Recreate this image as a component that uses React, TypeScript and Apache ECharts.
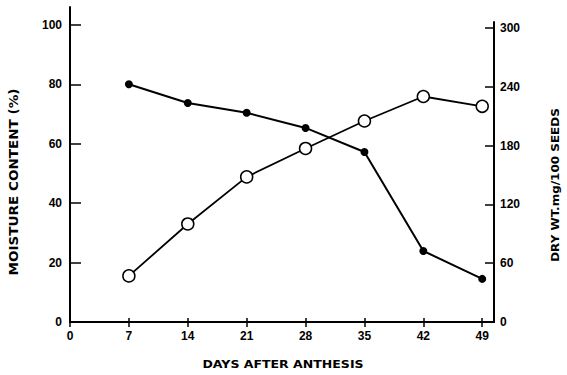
import React, { useEffect, useRef } from "react";
import * as echarts from "echarts";

const days = [7, 14, 21, 28, 35, 42, 49];
const moisture = [80, 73.7, 70.4, 65.3, 57.2, 23.9, 14.5];
const dryWeight = [47, 100, 148, 177, 205, 230, 220];
const xTicks = [0, 7, 14, 21, 28, 35, 42, 49];
const leftTicks = [0, 20, 40, 60, 80, 100];

const FONT = "'Liberation Sans', Arial, sans-serif";
const TITLE_FONT = "'DejaVu Sans', 'Liberation Sans', sans-serif";

export default function App() {
  const ref = useRef<HTMLDivElement>(null);
  useEffect(() => {
    document.body.style.margin = "0";
    const chart = echarts.init(ref.current!, null, { renderer: "svg" });
    const labelStyle = { color: "#000", fontFamily: FONT, fontWeight: "bold" as const, fontSize: 12 };
    chart.setOption({
      animation: false,
      backgroundColor: "#fff",
      grid: [
        { left: 70, right: 73, top: 7, bottom: 53 },
        { left: 70, right: 73, top: 22, bottom: 53 },
      ],
      xAxis: [
        {
          type: "value",
          gridIndex: 0,
          min: 0,
          max: 50.4,
          axisLine: { show: true, lineStyle: { color: "#000", width: 2 } },
          axisTick: { show: true, customValues: xTicks, inside: false, length: 5, lineStyle: { color: "#000", width: 1.5 } },
          axisLabel: { customValues: xTicks, margin: 8, ...labelStyle },
          splitLine: { show: false },
        },
        {
          type: "value",
          gridIndex: 0,
          min: 0,
          max: 50.4,
          position: "bottom",
          axisLine: { show: false },
          axisTick: { show: true, customValues: xTicks.slice(1), inside: true, length: 4, lineStyle: { color: "#000", width: 1.5 } },
          axisLabel: { show: false },
          splitLine: { show: false },
        },
        {
          type: "value",
          gridIndex: 1,
          min: 0,
          max: 50.4,
          show: false,
        },
      ],
      yAxis: [
        {
          type: "value",
          gridIndex: 0,
          min: 0,
          max: 106,
          position: "left",
          axisLine: { show: true, lineStyle: { color: "#000", width: 2 } },
          axisTick: { show: true, customValues: leftTicks, inside: true, length: 11, lineStyle: { color: "#000", width: 1.5 } },
          axisLabel: { customValues: leftTicks, margin: 8, ...labelStyle },
          splitLine: { show: false },
        },
        {
          type: "value",
          gridIndex: 1,
          min: 0,
          max: 306,
          interval: 60,
          position: "right",
          axisLine: { show: true, onZero: false, lineStyle: { color: "#000", width: 2 } },
          axisTick: { show: true, inside: true, length: 9, lineStyle: { color: "#000", width: 1.5 } },
          axisLabel: { margin: 6, showMaxLabel: false, ...labelStyle },
          splitLine: { show: false },
        },
      ],
      graphic: [
        {
          type: "text",
          x: 283,
          y: 364,
          scaleX: 1.14,
          style: { text: "DAYS AFTER ANTHESIS", fill: "#000", font: `bold 11px ${TITLE_FONT}`, align: "center", verticalAlign: "middle" },
        },
        {
          type: "text",
          x: 14,
          y: 182,
          rotation: Math.PI / 2,
          scaleX: 1.13,
          style: { text: "MOISTURE CONTENT (%)", fill: "#000", font: `bold 12px ${TITLE_FONT}`, align: "center", verticalAlign: "middle" },
        },
        {
          type: "text",
          x: 555,
          y: 185,
          rotation: Math.PI / 2,
          scaleX: 1.09,
          style: { text: "DRY WT.mg/100 SEEDS", fill: "#000", font: `bold 11px ${TITLE_FONT}`, align: "center", verticalAlign: "middle" },
        },
      ],
      series: [
        {
          type: "line",
          xAxisIndex: 0,
          yAxisIndex: 0,
          data: days.map((d, i) => [d, moisture[i]]),
          symbol: "circle",
          symbolSize: 8,
          itemStyle: { color: "#000" },
          lineStyle: { color: "#000", width: 2 },
          z: 3,
        },
        {
          type: "line",
          xAxisIndex: 2,
          yAxisIndex: 1,
          data: days.map((d, i) => [d, dryWeight[i]]),
          symbol: "circle",
          symbolSize: 12,
          itemStyle: { color: "#fff", borderColor: "#000", borderWidth: 1.5 },
          lineStyle: { color: "#000", width: 1.8 },
          z: 4,
        },
      ],
    });
    return () => chart.dispose();
  }, []);
  return <div ref={ref} style={{ width: 567, height: 375 }} />;
}
